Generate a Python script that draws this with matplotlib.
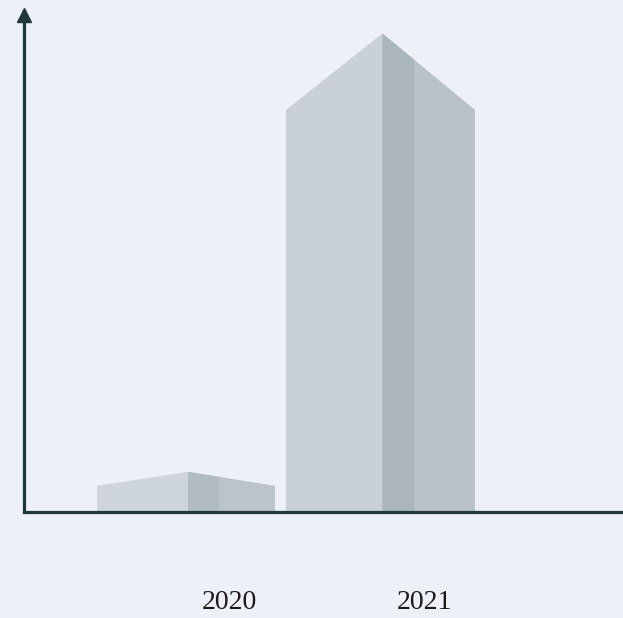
import matplotlib
matplotlib.use("Agg")
import matplotlib.pyplot as plt
from matplotlib.patches import Polygon, Rectangle

# data (relative units, 2021 bar body = 100)
years = ["2020", "2021"]
values = [6.5, 100]
roof_heights = [3.5, 19]

# style
BG = "#edf0f6"
AXIS_COLOR = "#1f3838"
LEFT_FACE = ["#ced5da", "#c9d1d6"]
RIGHT_FACE = ["#bac4c9", "#b8c2c7"]
DARK_BAND = ["#b1bcc1", "#aab6bb"]
BAR_WIDTHS = [0.915, 0.972]
BAND_WIDTH = 0.16
LABEL_SHIFT = 0.225

fig = plt.figure(figsize=(6.23, 6.18), dpi=100, facecolor=BG)
ax = fig.add_axes([24 / 623, 1 - 512 / 618, 1 - 24 / 623, (512 - 15) / 618])
ax.set_facecolor(BG)

for i, (v, r, w) in enumerate(zip(values, roof_heights, BAR_WIDTHS)):
    x0, xm, x1 = i - w / 2, i + 0.01, i + w / 2
    left = Polygon([(x0, 0), (xm, 0), (xm, v + r), (x0, v)],
                   closed=True, facecolor=LEFT_FACE[i], edgecolor="none")
    right = Polygon([(xm, 0), (x1, 0), (x1, v), (xm, v + r)],
                    closed=True, facecolor=RIGHT_FACE[i], edgecolor="none")
    ax.add_patch(left)
    ax.add_patch(right)
    band = Rectangle((xm, 0), BAND_WIDTH, v + r, facecolor=DARK_BAND[i],
                     edgecolor="none")
    ax.add_patch(band)
    band.set_clip_path(right)

ax.set_xlim(-0.833, 2.247)
ax.set_ylim(0, 123.6)

ax.spines["top"].set_visible(False)
ax.spines["right"].set_visible(False)
for s in ["left", "bottom"]:
    ax.spines[s].set_color(AXIS_COLOR)
    ax.spines[s].set_linewidth(2.3)

# arrow head on y axis
ax.plot([0], [1.0], marker="^", markersize=10, color=AXIS_COLOR,
        transform=ax.transAxes, clip_on=False)

ax.set_yticks([])
ax.set_xticks([i + LABEL_SHIFT for i in range(len(years))])
ax.set_xticklabels(years, fontfamily="Liberation Serif", fontsize=20,
                   color="#1a1a1a")
ax.tick_params(axis="x", length=0, pad=56)

fig.savefig("out.png", dpi=100, facecolor=BG)
